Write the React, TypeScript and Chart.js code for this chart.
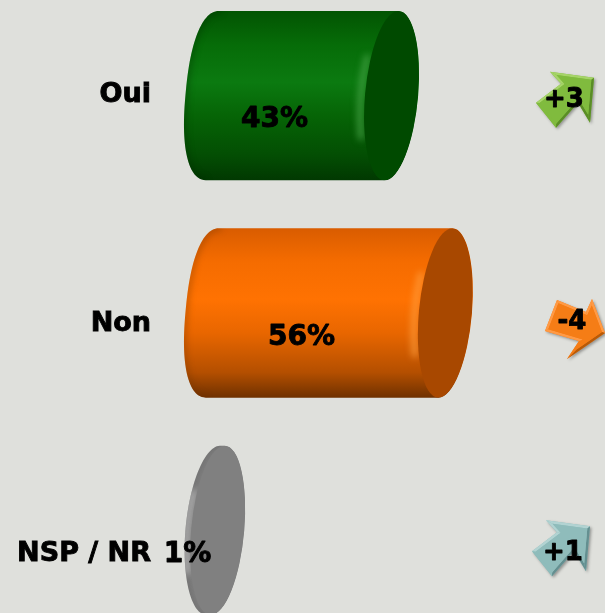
import React, { useEffect, useRef } from "react";
import { Chart, registerables } from "chart.js";

Chart.register(...registerables);

const categories = ["Oui", "Non", "NSP / NR"];
const shares = [43, 56, 1];
const changes = ["+3", "-4", "+1"];

const BG = "#dfe0dc";
const FONT = "'DejaVu Sans', sans-serif";

const tones = [
  { stops: ["#025402", "#066c08", "#0b7a10", "#066406", "#034e03", "#013801"], cap: "#004a00", glow: "#4aa64a", edge: "rgba(0,40,0,0.4)" },
  { stops: ["#d95c00", "#f56c00", "#ff7202", "#e86600", "#b44f00", "#6e3000"], cap: "#a84800", glow: "#ffa040", edge: "rgba(110,50,0,0.4)" },
  { stops: ["#808080", "#808080", "#808080", "#808080", "#808080", "#808080"], cap: "#808080", glow: "#c8c8c8", edge: "rgba(60,60,60,0.25)" },
];

const arrowTones = [
  { base: "#80bb3e", light: "#a6d469", dark: "#5a8d26" },
  { base: "#f57d16", light: "#ff9a45", dark: "#b85a08" },
  { base: "#8fbcbb", light: "#b2d3d2", dark: "#648f90" },
];

// outlines relative to each row's arrow anchor
const riseOutline = [[-28, 3], [-3, -16], [-14, -28], [30, -22], [26, 23], [14, 3], [-8, 28]];
const fallOutline = [[-28, 10], [-16, -21], [13, -9], [19, -22], [32, 12], [-6, 38], [6, 20]];
const arrowAnchors = [
  { dx: 0, dy: 4, outline: riseOutline, text: [0, 0] },
  { dx: 9, dy: 8, outline: fallOutline, text: [-1, 0] },
  { dx: -4, dy: 18, outline: riseOutline, text: [3, 4] },
];

const TILT = (5.2 * Math.PI) / 180;
const BACK_MINOR = 28;
const CAP_MINOR = 26.5;

function insetPolygon(pts: number[][], d: number) {
  let area = 0;
  pts.forEach((p, i) => {
    const q = pts[(i + 1) % pts.length];
    area += p[0] * q[1] - q[0] * p[1];
  });
  const s = area > 0 ? 1 : -1;
  const n = pts.length;
  return pts.map((p, i) => {
    const a = pts[(i - 1 + n) % n];
    const b = pts[(i + 1) % n];
    const norm = (u: number[], v: number[]) => {
      const ex = v[0] - u[0], ey = v[1] - u[1], l = Math.hypot(ex, ey);
      return [(-ey / l) * s, (ex / l) * s];
    };
    const n1 = norm(a, p), n2 = norm(p, b);
    const k = 1 + n1[0] * n2[0] + n1[1] * n2[1];
    return [p[0] + (d * (n1[0] + n2[0])) / k, p[1] + (d * (n1[1] + n2[1])) / k];
  });
}

function drawArrow(ctx: CanvasRenderingContext2D, cx: number, cy: number, outline: number[][], tone: any) {
  const pts = outline.map((p) => [cx + p[0], cy + p[1]]);
  const inner = insetPolygon(pts, 2.5);
  const trace = (ps: number[][]) => {
    ctx.beginPath();
    ps.forEach((p, i) => (i ? ctx.lineTo(p[0], p[1]) : ctx.moveTo(p[0], p[1])));
    ctx.closePath();
  };
  ctx.save();
  ctx.shadowColor = "rgba(0,0,0,0.35)";
  ctx.shadowBlur = 3;
  ctx.shadowOffsetX = 1.5;
  ctx.shadowOffsetY = 1.5;
  trace(pts);
  ctx.fillStyle = tone.base;
  ctx.fill();
  ctx.restore();
  const n = pts.length;
  pts.forEach((p, i) => {
    const q = pts[(i + 1) % n];
    const a = inner[i], b = inner[(i + 1) % n];
    const ox = (p[0] + q[0]) / 2 - (a[0] + b[0]) / 2;
    const oy = (p[1] + q[1]) / 2 - (a[1] + b[1]) / 2;
    const l = Math.hypot(ox, oy) || 1;
    const lit = (-ox - oy) / l;
    ctx.beginPath();
    ctx.moveTo(p[0], p[1]);
    ctx.lineTo(q[0], q[1]);
    ctx.lineTo(b[0], b[1]);
    ctx.lineTo(a[0], a[1]);
    ctx.closePath();
    ctx.fillStyle = lit > 0.2 ? tone.light : lit < -0.2 ? tone.dark : tone.base;
    ctx.fill();
  });
  trace(inner);
  ctx.fillStyle = tone.base;
  ctx.fill();
}

function drawCylinder(ctx: CanvasRenderingContext2D, x0: number, x1: number, y: number, h: number, tone: any) {
  const major = h / 2;
  const c = Math.cos(TILT), s = Math.sin(TILT);
  const phiCap = Math.atan2(major * c, CAP_MINOR * s);
  // long bars have a fuller back end; a sliver stays a plain ellipse
  const exponent = x1 - x0 < 20 ? 2 : 2.35;
  const backPoint = (t: number) => {
    const e = 2 / exponent;
    const ct = Math.cos(t), st = Math.sin(t);
    const u = BACK_MINOR * Math.sign(ct) * Math.pow(Math.abs(ct), e);
    const v = major * Math.sign(st) * Math.pow(Math.abs(st), e);
    return [x0 + u * c - v * s, y + u * s + v * c];
  };
  const body = () => {
    ctx.beginPath();
    for (let k = 0; k <= 60; k++) {
      const p = backPoint(Math.PI / 2 + (Math.PI * k) / 60);
      if (k) ctx.lineTo(p[0], p[1]);
      else ctx.moveTo(p[0], p[1]);
    }
    ctx.ellipse(x1, y, CAP_MINOR, major, TILT, phiCap - Math.PI, phiCap, false);
    ctx.closePath();
  };
  ctx.save();
  body();
  const grad = ctx.createLinearGradient(0, y - major, 0, y + major);
  const at = [0, 0.2, 0.42, 0.62, 0.85, 1];
  tone.stops.forEach((col: string, i: number) => grad.addColorStop(at[i], col));
  ctx.fillStyle = grad;
  ctx.fill();
  ctx.clip();

  ctx.save();
  ctx.filter = "blur(3px)";
  ctx.strokeStyle = tone.edge;
  ctx.lineWidth = 5;
  ctx.beginPath();
  for (let k = 0; k <= 60; k++) {
    const p = backPoint(Math.PI / 2 + (Math.PI * k) / 60);
    if (k) ctx.lineTo(p[0], p[1]);
    else ctx.moveTo(p[0], p[1]);
  }
  ctx.stroke();
  ctx.restore();

  ctx.save();
  ctx.filter = "blur(3.5px)";
  ctx.strokeStyle = tone.glow;
  ctx.lineWidth = 4.5;
  ctx.lineCap = "round";
  ctx.beginPath();
  ctx.ellipse(x1 - 4, y, CAP_MINOR, major, TILT, Math.PI - 0.55, Math.PI + 0.45, false);
  ctx.stroke();
  ctx.restore();

  ctx.beginPath();
  ctx.ellipse(x1, y, CAP_MINOR, major, TILT, 0, Math.PI * 2);
  ctx.fillStyle = tone.cap;
  ctx.fill();
  ctx.restore();
}

const cylinderPlugin = {
  id: "cylinders",
  afterDatasetsDraw(chart: any) {
    const ctx: CanvasRenderingContext2D = chart.ctx;
    const meta = chart.getDatasetMeta(0);
    const xs = chart.scales.x;
    meta.data.forEach((bar: any, i: number) => {
      drawCylinder(ctx, bar.base, bar.x, bar.y, bar.height, tones[i]);
    });
    ctx.save();
    ctx.fillStyle = "#000";
    ctx.strokeStyle = "#000";
    ctx.lineWidth = 0.9;
    ctx.lineJoin = "round";
    ctx.textAlign = "center";
    ctx.textBaseline = "middle";
    meta.data.forEach((bar: any, i: number) => {
      ctx.font = `bold 28px ${FONT}`;
      const lx = xs.getPixelForValue(shares[i] / 2) - 28;
      const ly = bar.y + 24.5;
      ctx.fillText(`${shares[i]}%`, lx, ly);
      ctx.strokeText(`${shares[i]}%`, lx, ly);
    });
    const right = chart.chartArea.right;
    meta.data.forEach((bar: any, i: number) => {
      const a = arrowAnchors[i];
      const cx = right - 41 + a.dx;
      const cy = bar.y + a.dy;
      drawArrow(ctx, cx, cy, a.outline, arrowTones[i]);
      ctx.fillStyle = "#000";
      ctx.font = `bold 26px ${FONT}`;
      ctx.fillText(changes[i], cx + a.text[0], cy + a.text[1] + 1);
      ctx.strokeText(changes[i], cx + a.text[0], cy + a.text[1] + 1);
    });
    ctx.restore();
  },
};

export default function App() {
  const ref = useRef<HTMLCanvasElement>(null);
  useEffect(() => {
    document.body.style.margin = "0";
    const chart = new Chart(ref.current!, {
      type: "bar",
      data: {
        labels: categories,
        datasets: [
          {
            data: shares,
            backgroundColor: "transparent",
            borderWidth: 0,
            barThickness: 170,
          },
        ],
      },
      options: {
        indexAxis: "y",
        animation: false,
        responsive: false,
        layout: { padding: 0 },
        plugins: { legend: { display: false }, tooltip: { enabled: false } },
        scales: {
          x: { display: false, min: -13.41, max: 94.56 },
          y: { display: false },
          yLabels: {
            axis: "y",
            type: "linear",
            position: "left",
            reverse: true,
            offset: false,
            bounds: "data",
            min: -0.4684,
            max: 2.3725,
            grid: { display: false, drawTicks: false, offset: false },
            border: { display: false },
            afterBuildTicks: (s: any) => {
              s.ticks = [{ value: 0 }, { value: 1 }, { value: 2 }];
            },
            afterFit: (s: any) => {
              s.width = 158;
              s.paddingTop = 0;
              s.paddingBottom = 0;
            },
            ticks: {
              autoSkip: false,
              padding: 7,
              color: "#000",
              textStrokeColor: "#000",
              textStrokeWidth: 0.9,
              font: { family: "'DejaVu Sans', sans-serif", weight: "bold", size: 27 },
              callback: (v: any) => categories[v],
            },
          },
        },
      } as any,
      plugins: [cylinderPlugin],
    });
    return () => chart.destroy();
  }, []);
  return (
    <div style={{ position: "fixed", left: 0, top: 0, width: 605, height: 613, overflow: "hidden", background: BG }}>
      <canvas ref={ref} width={605} height={652} style={{ position: "absolute", left: 0, top: -13, display: "block" }} />
    </div>
  );
}
